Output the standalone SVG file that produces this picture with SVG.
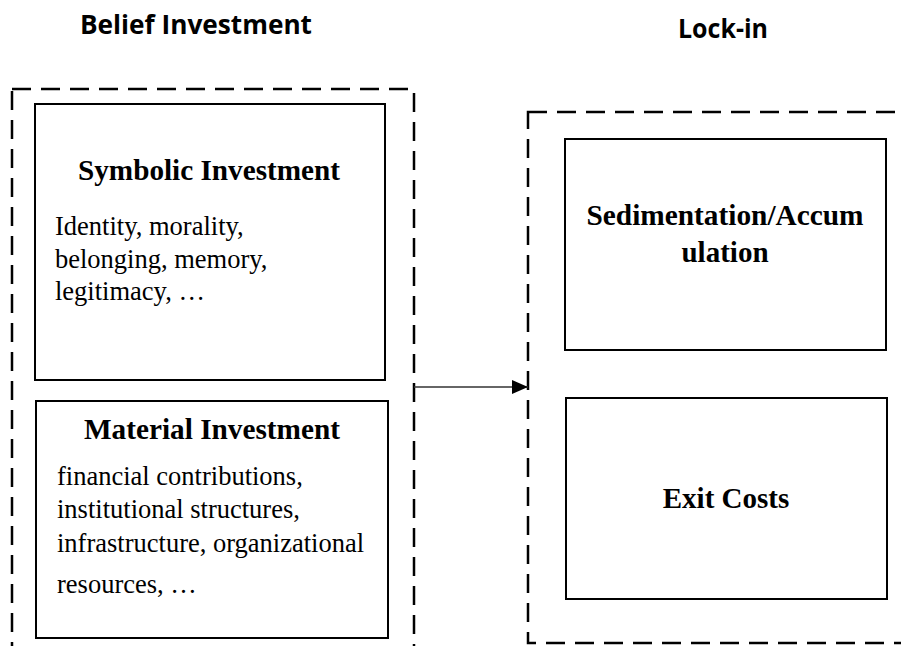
<svg xmlns="http://www.w3.org/2000/svg" width="901" height="646" viewBox="0 0 901 646">
  <style>
    .heading { font-family: "Open Sans", "Liberation Sans", sans-serif; font-weight: bold; font-size: 27px; fill: #000; }
    .title { font-family: "Liberation Serif", "Times New Roman", serif; font-weight: bold; font-size: 29px; fill: #000; text-anchor: middle; }
    .body { font-family: "Liberation Serif", "Times New Roman", serif; font-size: 26.5px; fill: #000; }
    .box { fill: #fff; stroke: #000; stroke-width: 2; }
    .group { fill: none; stroke: #000; stroke-width: 2.5; stroke-dasharray: 19 10; }
    .link { stroke: #333; stroke-width: 1.5; fill: none; }
  </style>
  <defs>
    <marker id="arrowhead" markerWidth="16" markerHeight="14" refX="16" refY="7" orient="auto" markerUnits="userSpaceOnUse">
      <path d="M0,0 L16,7 L0,14 Z" fill="#000"/>
    </marker>
  </defs>
  <rect width="901" height="646" fill="#fff"/>

  <!-- column headings -->
  <text class="heading" x="80" y="34" textLength="232" lengthAdjust="spacingAndGlyphs">Belief Investment</text>
  <text class="heading" x="678" y="38" textLength="90" lengthAdjust="spacingAndGlyphs">Lock-in</text>

  <!-- dashed groupings -->
  <g id="belief-investment">
    <rect class="group" x="12" y="89" width="402" height="580"/>
  </g>
  <g id="lock-in">
    <rect class="group" x="528" y="112" width="420" height="531"/>
  </g>

  <g id="symbolic-investment">
    <rect class="box" x="35" y="104" width="350" height="276"/>
    <text class="title" x="209" y="180" textLength="262" lengthAdjust="spacingAndGlyphs">Symbolic Investment</text>
    <text class="body" x="55" y="235">Identity, morality,</text>
    <text class="body" x="55" y="268">belonging, memory,</text>
    <text class="body" x="55" y="300">legitimacy, …</text>
  </g>

  <g id="material-investment">
    <rect class="box" x="36" y="401" width="352" height="237"/>
    <text class="title" x="212" y="439" textLength="256" lengthAdjust="spacingAndGlyphs">Material Investment</text>
    <text class="body" x="57" y="485">financial contributions,</text>
    <text class="body" x="57" y="518">institutional structures,</text>
    <text class="body" x="57" y="552">infrastructure, organizational</text>
    <text class="body" x="57" y="593">resources, …</text>
  </g>

  <g id="sedimentation">
    <rect class="box" x="565" y="139" width="321" height="211"/>
    <text class="title" x="725" y="225" textLength="277" lengthAdjust="spacingAndGlyphs">Sedimentation/Accum</text>
    <text class="title" x="725" y="262">ulation</text>
  </g>

  <g id="exit-costs">
    <rect class="box" x="566" y="398" width="321" height="201"/>
    <text class="title" x="726" y="508">Exit Costs</text>
  </g>

  <g id="connectors">
    <line class="link" x1="414" y1="387" x2="528" y2="387" marker-end="url(#arrowhead)"/>
  </g>
</svg>
